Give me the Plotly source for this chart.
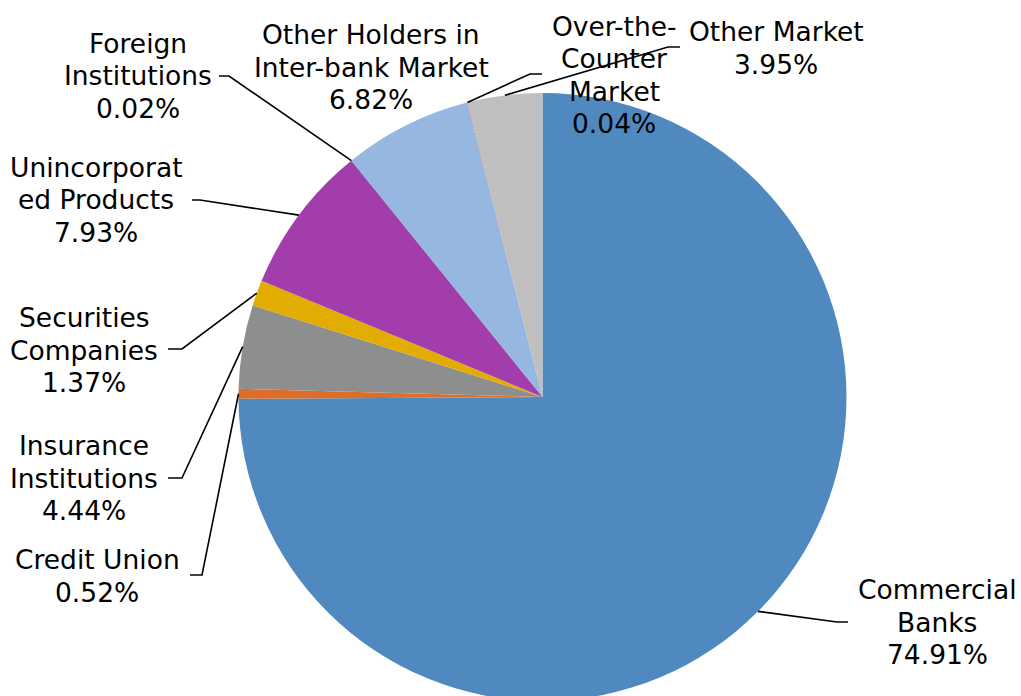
import math
import plotly.graph_objects as go

W, H = 1021, 701

categories = ["Commercial Banks", "Credit Union", "Insurance Institutions",
              "Securities Companies", "Unincorporated Products", "Foreign Institutions",
              "Other Holders in Inter-bank Market", "Over-the-Counter Market", "Other Market"]
shares = [74.91, 0.52, 4.44, 1.37, 7.93, 0.02, 6.82, 0.04, 3.95]
label_lines = [["Commercial", "Banks"], ["Credit Union"], ["Insurance", "Institutions"],
               ["Securities", "Companies"], ["Unincorporat", "ed Products"], ["Foreign", "Institutions"],
               ["Other Holders in", "Inter-bank Market"], ["Over-the-", "Counter", "Market"], ["Other Market"]]
colors = ["#4F89BF", "#DC6E2A", "#8E8E8E", "#E3AC00", "#A33DAB",
          "#3A5F8F", "#96B7DF", "#C09090", "#BFBFBF"]

# label placement (pixels): text centre, leader elbow, leader end (None = no leader)
label_pos = [(937, 622), (97, 576), (84, 478), (84, 350), (96, 200),
             (138, 76), (371, 67), (614, 75), (776, 48)]
elbows = [(837, 622), (202, 575), (182, 478), (182, 349), (200, 200),
          (229, 76), None, (530, 74), (668, 47)]
ends = [(848, 622), (190, 575), (168, 478), (168, 349), (192, 200),
        (219, 76), None, (542, 74), (680, 47)]
LINE_GAP = 32.5
FONT_SIZE = 26.5

# pie geometry in pixels
CX, CY, R = 542.5, 397, 304

def px(x):
    return x / W

def py(y):
    return 1 - y / H

fig = go.Figure(go.Pie(
    labels=categories, values=shares, sort=False, direction="clockwise", rotation=0,
    marker=dict(colors=colors, line=dict(width=0)),
    textinfo="none", hoverinfo="label+percent",
    domain=dict(x=[px(CX - R), px(CX + R)], y=[max(0, py(CY + R)), py(CY - R)]),
))

total = sum(shares)
cum = 0.0
shapes = []
annotations = []
for i, v in enumerate(shares):
    mid = (cum + v / 2) / total * 360.0
    cum += v
    th = math.radians(mid)
    sx = CX + R * math.sin(th)
    sy = CY - R * math.cos(th)
    if elbows[i] is not None:
        ex, ey = elbows[i]
        tx, ty = ends[i]
        path = "M {} {} L {} {} L {} {}".format(px(sx), py(sy), px(ex), py(ey), px(tx), py(ty))
        shapes.append(dict(type="path", xref="paper", yref="paper", path=path,
                           line=dict(color="black", width=1.6)))
    lines = label_lines[i] + ["{:.2f}%".format(v)]
    lx, ly = label_pos[i]
    n = len(lines)
    for k, t in enumerate(lines):
        yk = ly + (k - (n - 1) / 2) * LINE_GAP
        annotations.append(dict(
            x=px(lx), y=py(yk), xref="paper", yref="paper", showarrow=False,
            xanchor="center", yanchor="middle", align="center", text=t,
            font=dict(family="DejaVu Sans", size=FONT_SIZE, color="black")))

fig.update_layout(
    width=W, height=H, margin=dict(l=0, r=0, t=0, b=0),
    paper_bgcolor="white", plot_bgcolor="white", showlegend=False,
    shapes=shapes, annotations=annotations,
)

fig.write_html("out.html", config={"displayModeBar": False},
               post_script="document.body.style.margin='0';document.body.style.overflow='hidden';")
